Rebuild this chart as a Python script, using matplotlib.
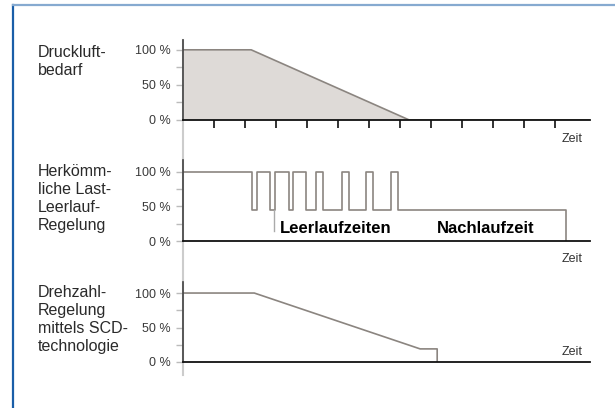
import matplotlib.pyplot as plt
from matplotlib.lines import Line2D

plt.rcParams['font.family'] = ['Liberation Sans', 'DejaVu Sans']

# time in arbitrary units (one x tick per unit), values in percent
demand_t = [0, 2.2, 7.3, 13.1]
demand_pct = [100, 100, 0, 0]

# load / idle switching: time of each switch and level after it
loadidle_t = [0, 2.23, 2.39, 2.81, 2.97, 3.42, 3.55, 3.97, 4.29, 4.52,
              5.13, 5.35, 5.90, 6.13, 6.71, 6.94, 12.35]
loadidle_pct = [100, 45, 100, 45, 100, 45, 100, 45, 100, 45,
                100, 45, 100, 45, 100, 45, 0]

scd_t = [0, 2.3, 7.65, 8.2, 8.2]
scd_pct = [100, 100, 19, 19, 0]

row_labels = ['Druckluft-\nbedarf',
              'Herkömm-\nliche Last-\nLeerlauf-\nRegelung',
              'Drehzahl-\nRegelung\nmittels SCD-\ntechnologie']
ytick_vals = [0, 50, 100]
ytick_labels = ['0 %', '50 %', '100 %']
xticks = list(range(1, 13))

line_c = '#8b8580'
fill_c = '#dedad7'

W, H = 615, 408
fig = plt.figure(figsize=(W / 100, H / 100), dpi=100)

# axes boxes in pixels: (bottom of axis, top of spine)
boxes = [(120, 40), (241, 160), (362, 282)]
ymax = [114, 117, 116]
axes = []
for (bot, top), ym in zip(boxes, ymax):
    ax = fig.add_axes([183 / W, 1 - bot / H, (590 - 183) / W, (bot - top) / H])
    ax.set_xlim(0, 13.13)
    ax.set_ylim(0, ym)
    ax.patch.set_alpha(0)
    for s in ['top', 'right']:
        ax.spines[s].set_visible(False)
    ax.spines['left'].set_color('#444444')
    ax.spines['left'].set_linewidth(1.2)
    ax.spines['bottom'].set_color('#111111')
    ax.spines['bottom'].set_linewidth(1.3)
    ax.set_yticks(ytick_vals)
    ax.set_yticklabels(ytick_labels)
    ax.set_yticks([25, 75], minor=True)
    ax.tick_params(axis='y', which='both', length=5, width=1, color='#bbbbbb',
                   labelsize=9, labelcolor='#3a3a3a', pad=4)
    axes.append(ax)

# grey guide line behind the y axes
fig.add_artist(Line2D([183 / W, 183 / W], [1 - 40 / H, 1 - 375 / H],
                      transform=fig.transFigure, color='#cccccc', lw=1.5, zorder=0))

# panel 1: demand
ax = axes[0]
ax.fill_between(demand_t, demand_pct, 0, color=fill_c, lw=0)
ax.plot(demand_t, demand_pct, color=line_c, lw=1.2)
ax.set_xticks(xticks)
ax.tick_params(axis='x', direction='out', length=6, width=1.3, color='#222222',
               labelbottom=False)

# panel 2: load / idle control
ax = axes[1]
ax.plot(loadidle_t, loadidle_pct, drawstyle='steps-post', color=line_c, lw=1.2)
ax.plot([2.94, 2.94], [45, 14], color='#aaaaaa', lw=1)
ax.text(3.13, 11.5, 'Leerlaufzeiten', fontsize=12, fontweight='bold', va='baseline')
ax.text(8.19, 11.5, 'Nachlaufzeit', fontsize=12, fontweight='bold', va='baseline')
ax.set_xticks([])

# panel 3: speed control
ax = axes[2]
ax.plot(scd_t, scd_pct, color=line_c, lw=1.2)
ax.set_xticks([])

# "Zeit" labels
for ax, dy in zip(axes, [-16, -15, 5]):
    ax.annotate('Zeit', xy=(1, 0), xycoords='axes fraction', xytext=(-5, dy),
                textcoords='offset points', ha='right', va='baseline',
                fontsize=9, color='#333333')

# row labels
for (bot, top), lab, dy in zip(boxes, row_labels, [5, 4, 3]):
    fig.text(38 / W, 1 - (top + dy) / H, lab, ha='left', va='top', fontsize=11.5,
             color='#2a2a2a', linespacing=1.25)

# frame
fig.add_artist(Line2D([13 / W, 13 / W], [0, 1 - 5 / H], transform=fig.transFigure,
                      color='#1a5ea8', lw=1.6))
fig.add_artist(Line2D([13 / W, 1], [1 - 5 / H, 1 - 5 / H], transform=fig.transFigure,
                      color='#86aad0', lw=1.6))

fig.savefig('out.png', dpi=100)
